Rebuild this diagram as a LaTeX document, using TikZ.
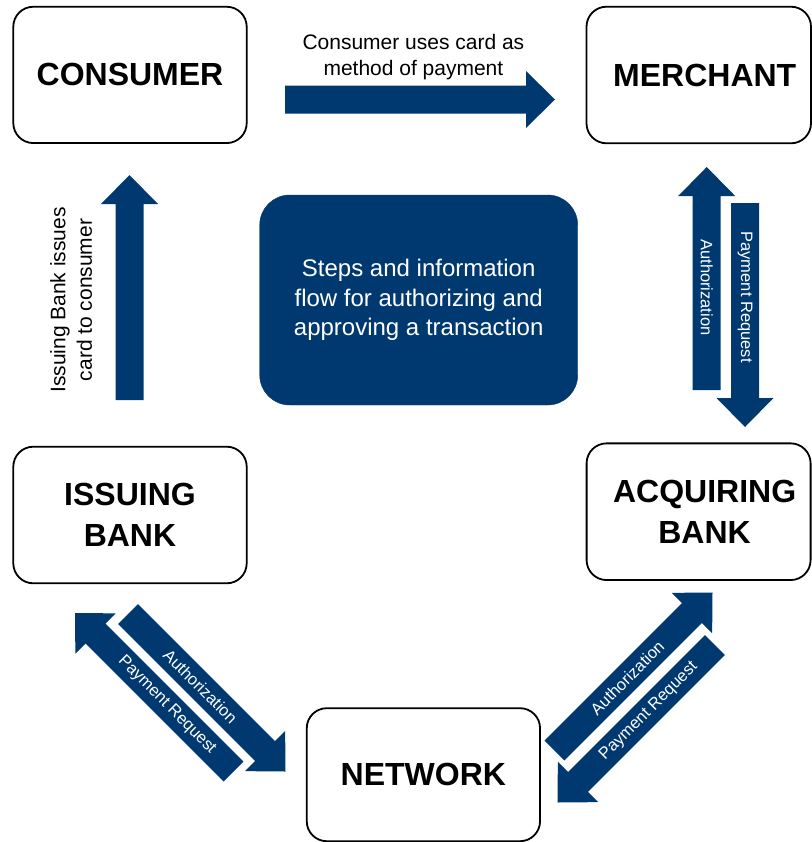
\documentclass[tikz,border=0pt]{standalone}
\usepackage{fontspec}
\setmainfont{Liberation Sans}
\usetikzlibrary{calc}
\definecolor{navy}{RGB}{0,57,112}
\tikzset{
  box/.style={draw=black, line width=1.8bp, rounded corners=20bp, align=center,
    inner sep=0pt, font=\bfseries\fontsize{32bp}{41bp}\selectfont},
  centerbox/.style={fill=navy, draw=navy, rounded corners=30bp, align=center,
    inner sep=0pt, text=white, minimum width=318bp, minimum height=210bp,
    font=\fontsize{24bp}{29.5bp}\selectfont},
  caption/.style={align=center, inner sep=0pt, font=\fontsize{21bp}{26.5bp}\selectfont},
  lbl/.style={inner sep=0pt, text=white, font=\fontsize{16.5bp}{20bp}\selectfont},
}
\newcommand\fatarrow[2]{%
  \path ($(#2)!29bp!(#1)$) coordinate (#1-h);
  \fill[navy] ($(#1)!14bp!90:(#2)$) -- ($(#1-h)!14bp!90:(#2)$)
    -- ($(#1-h)!28.5bp!90:(#2)$) -- (#2) -- ($(#1-h)!28.5bp!-90:(#2)$)
    -- ($(#1-h)!14bp!-90:(#2)$) -- ($(#1)!14bp!-90:(#2)$) -- cycle;}
\begin{document}
\begin{tikzpicture}[x=1bp,y=-1bp]
\useasboundingbox (0,0) rectangle (812,842);
% boxes
\node[box, minimum width=233.4bp, minimum height=136.3bp] (consumer) at (130,74.9) {CONSUMER};
\node[box, minimum width=224.5bp, minimum height=136.6bp] (merchant) at (698.75,75) {\hspace*{12bp}MERCHANT};
\node[box, minimum width=233.4bp, minimum height=136.6bp] (issuing) at (130,515) {ISSUING\\BANK};
\node[box, minimum width=224bp, minimum height=136.7bp, text depth=-3bp] (acquiring) at (698.6,511.7) {\hspace*{12bp}ACQUIRING\\\hspace*{12bp}BANK};
\node[box, minimum width=233.3bp, minimum height=133bp] (network) at (423.4,774.7) {NETWORK};
\node[centerbox] (centre) at (418.7,300) {Steps and information\\flow for authorizing and\\approving a transaction};
% arrow end points
\coordinate (top-a) at (285,99.5);   \coordinate (top-b) at (555,99.5);
\coordinate (lv-a) at (129.5,400);   \coordinate (lv-b) at (129.5,175);
\coordinate (ra-a) at (706.7,390);   \coordinate (ra-b) at (706.7,167);
\coordinate (rp-a) at (745,203);     \coordinate (rp-b) at (745,427);
\coordinate (lla-a) at (128,614);    \coordinate (lla-b) at (285.5,771.5);
\coordinate (llp-a) at (233.5,771.5);\coordinate (llp-b) at (75,613);
\coordinate (lra-a) at (554.5,750.5);\coordinate (lra-b) at (712.5,592.5);
\coordinate (lrp-a) at (714.9,645.1);\coordinate (lrp-b) at (557.5,802.5);
\fatarrow{top-a}{top-b}
\fatarrow{lv-a}{lv-b}
\fatarrow{ra-a}{ra-b}
\fatarrow{rp-a}{rp-b}
\fatarrow{lla-a}{lla-b}
\fatarrow{llp-a}{llp-b}
\fatarrow{lra-a}{lra-b}
\fatarrow{lrp-a}{lrp-b}
% labels
\node[caption] (toptext) at (413.4,57) {Consumer uses card as\\method of payment};
\node[caption, rotate=90] (lefttext) at (71,300) {Issuing Bank issues\\card to consumer};
\path (ra-a) -- (ra-b) node[lbl, pos=0.46, rotate=-90] (ral) {Authorization};
\path (rp-a) -- (rp-b) node[lbl, pos=0.42, rotate=-90] (rpl) {Payment Request};
\path (lla-a) -- (lla-b) node[lbl, pos=0.46, sloped] (llal) {Authorization};
\path (llp-a) -- (llp-b) node[lbl, pos=0.42, sloped] (llpl) {Payment Request};
\path (lra-a) -- (lra-b) node[lbl, pos=0.46, sloped] (lral) {Authorization};
\path (lrp-a) -- (lrp-b) node[lbl, pos=0.42, sloped] (lrpl) {Payment Request};
\end{tikzpicture}
\end{document}
